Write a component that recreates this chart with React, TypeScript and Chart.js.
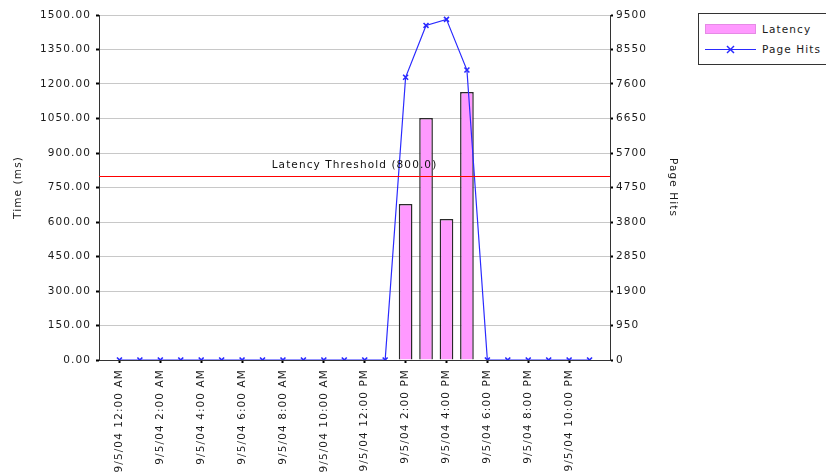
import React, { useEffect, useRef } from 'react';
import { Chart, registerables } from 'chart.js';

Chart.register(...registerables);

// ---- data ----
const hours: string[] = [
  '9/5/04 12:00 AM', '9/5/04 1:00 AM', '9/5/04 2:00 AM', '9/5/04 3:00 AM',
  '9/5/04 4:00 AM', '9/5/04 5:00 AM', '9/5/04 6:00 AM', '9/5/04 7:00 AM',
  '9/5/04 8:00 AM', '9/5/04 9:00 AM', '9/5/04 10:00 AM', '9/5/04 11:00 AM',
  '9/5/04 12:00 PM', '9/5/04 1:00 PM', '9/5/04 2:00 PM', '9/5/04 3:00 PM',
  '9/5/04 4:00 PM', '9/5/04 5:00 PM', '9/5/04 6:00 PM', '9/5/04 7:00 PM',
  '9/5/04 8:00 PM', '9/5/04 9:00 PM', '9/5/04 10:00 PM', '9/5/04 11:00 PM',
];

const latency: (number | null)[] = [
  null, null, null, null, null, null, null, null, null, null, null, null,
  null, null, 678, 1052, 613, 1165, null, null, null, null, null, null,
];

const pageHits: number[] = [
  0, 0, 0, 0, 0, 0, 0, 0, 0, 0, 0, 0,
  0, 0, 7785, 9213, 9380, 7985, 0, 0, 0, 0, 0, 0,
];

const latencyThreshold = 800;
const thresholdLabel = 'Latency Threshold (800.0)';

const leftMax = 1500;
const leftStep = 150;
const rightMax = 9500;
const rightStep = 950;

// ---- styles ----
const FONT = '"DejaVu Sans", sans-serif';
const FONT_SIZE = 10.5;
const SPACING = '1.1px';
const TEXT = '#1a1a1a';
const BLUE = '#2a2aff';
const PINK = '#ff99ff';

const spacingPlugin = {
  id: 'spacing',
  beforeUpdate(chart: any) { chart.ctx.letterSpacing = SPACING; },
  beforeLayout(chart: any) { chart.ctx.letterSpacing = SPACING; },
  beforeDraw(chart: any) { chart.ctx.letterSpacing = SPACING; },
};

const thresholdPlugin = {
  id: 'threshold',
  afterDatasetsDraw(chart: any) {
    const { ctx, chartArea } = chart;
    const y = chart.scales.y.getPixelForValue(latencyThreshold);
    ctx.save();
    ctx.letterSpacing = SPACING;
    ctx.strokeStyle = '#ff0000';
    ctx.lineWidth = 1;
    ctx.beginPath();
    ctx.moveTo(chartArea.left, Math.round(y) + 0.5);
    ctx.lineTo(chartArea.right, Math.round(y) + 0.5);
    ctx.stroke();
    ctx.fillStyle = '#111';
    ctx.font = `${FONT_SIZE}px ${FONT}`;
    ctx.textAlign = 'center';
    ctx.textBaseline = 'alphabetic';
    ctx.fillText(thresholdLabel, (chartArea.left + chartArea.right) / 2, y - 8);
    ctx.restore();
  },
};

export default function App() {
  const ref = useRef<HTMLCanvasElement | null>(null);

  useEffect(() => {
    if (!ref.current) return;
    Chart.defaults.font.family = FONT;
    Chart.defaults.font.size = FONT_SIZE;
    Chart.defaults.color = TEXT;

    const labels = ['', ...hours, ''];
    const hitsData = [null, ...pageHits, null];
    const latData = [null, ...latency, null];
    const isShown = (i: number) => {
      const h = i - 1;
      return h >= 0 && h < hours.length && h % 2 === 0;
    };

    const chart = new Chart(ref.current, {
      data: {
        labels,
        datasets: [
          {
            type: 'line',
            label: 'Page Hits',
            data: hitsData,
            yAxisID: 'y1',
            borderColor: BLUE,
            borderWidth: 1.2,
            pointStyle: 'crossRot',
            pointRadius: 3.5,
            pointBorderWidth: 1.6,
            pointBorderColor: BLUE,
            pointBackgroundColor: BLUE,
            tension: 0,
            order: 0,
          } as any,
          {
            type: 'bar',
            label: 'Latency',
            data: latData,
            yAxisID: 'y',
            backgroundColor: PINK,
            borderColor: '#2a2a2a',
            borderWidth: 1.5,
            barPercentage: 0.67,
            categoryPercentage: 1,
            order: 1,
          } as any,
        ],
      },
      options: {
        responsive: false,
        animation: false,
        devicePixelRatio: 1,
        layout: { padding: { left: 8, top: 15, right: 0, bottom: 0 } },
        plugins: { legend: { display: false }, tooltip: { enabled: false } },
        scales: {
          x: {
            type: 'category',
            offset: false,
            grid: {
              offset: false,
              drawOnChartArea: false,
              tickLength: 3,
              tickWidth: 2,
              tickColor: (c: any) => (isShown(c.index) ? '#000' : 'rgba(0,0,0,0)'),
            },
            border: { color: '#333', width: 1 },
            ticks: {
              autoSkip: false,
              maxRotation: 90,
              minRotation: 90,
              padding: 6,
              color: TEXT,
              callback: (_v: any, i: number) => (isShown(i) ? labels[i] : ''),
            },
            afterFit: (s: any) => { s.height = 114; },
          },
          y: {
            position: 'left',
            min: 0,
            max: leftMax,
            ticks: {
              stepSize: leftStep,
              padding: 5,
              color: TEXT,
              callback: (v: any) => Number(v).toFixed(2),
            },
            grid: { color: '#c8c8c8', lineWidth: 1, tickColor: '#000', tickLength: 3, tickWidth: 2 },
            border: { color: '#333', width: 1 },
            title: { display: true, text: 'Time (ms)', color: TEXT, padding: 4 },
            afterFit: (s: any) => { s.width = 91; },
          },
          y1: {
            position: 'right',
            min: 0,
            max: rightMax,
            ticks: {
              stepSize: rightStep,
              padding: 3,
              color: TEXT,
              callback: (v: any) => String(v),
            },
            grid: { drawOnChartArea: false, tickColor: '#000', tickLength: 3, tickWidth: 2 },
            border: { color: '#333', width: 1 },
            title: { display: true, text: 'Page Hits', color: TEXT, padding: 4 },
            afterFit: (s: any) => { s.width = 73; },
          },
        },
      } as any,
      plugins: [spacingPlugin, thresholdPlugin],
    });
    return () => chart.destroy();
  }, []);

  const legendText: React.CSSProperties = {
    position: 'absolute',
    left: 762,
    fontFamily: FONT,
    fontSize: FONT_SIZE,
    letterSpacing: SPACING,
    color: TEXT,
    lineHeight: '14px',
    whiteSpace: 'nowrap',
  };

  return (
    <div style={{ position: 'fixed', left: 0, top: 0, width: 826, height: 474, background: '#fff', overflow: 'hidden' }}>
      <canvas ref={ref} width={683} height={474} style={{ position: 'absolute', left: 0, top: 0 }} />
      <div style={{ position: 'absolute', left: 698, top: 13, width: 140, height: 52, border: '1px solid #333', boxSizing: 'border-box' }} />
      <div style={{ position: 'absolute', left: 705, top: 24, width: 51, height: 10, background: PINK, boxShadow: 'inset 0 0 0 1px #e58ae5' }} />
      <div style={{ ...legendText, top: 22 }}>Latency</div>
      <svg style={{ position: 'absolute', left: 705, top: 44 }} width={51} height={11}>
        <line x1={0} y1={5.5} x2={51} y2={5.5} stroke={BLUE} strokeWidth={1.2} />
        <line x1={22} y1={2} x2={29} y2={9} stroke={BLUE} strokeWidth={1.5} />
        <line x1={29} y1={2} x2={22} y2={9} stroke={BLUE} strokeWidth={1.5} />
      </svg>
      <div style={{ ...legendText, top: 42 }}>Page Hits</div>
    </div>
  );
}
